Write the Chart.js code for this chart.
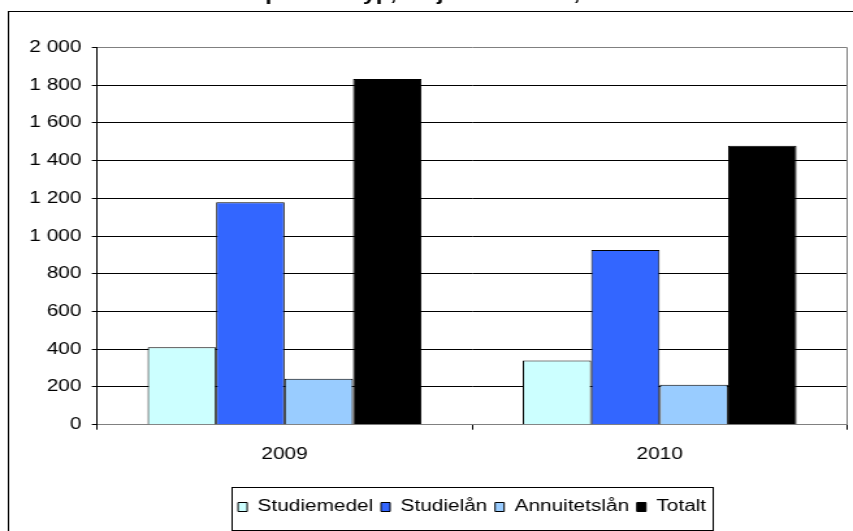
<!DOCTYPE html>
<html>
<head>
<meta charset="utf-8">
<script src="https://cdn.jsdelivr.net/npm/chart.js@4/dist/chart.umd.min.js"></script>
<style>
  html, body { margin: 0 ; padding: 0 ; background: #fff ; overflow: hidden ; }
  /* the source picture is stretched sideways, so the canvas is drawn narrow and widened by css */
  #chart { display: block ; width: 853px !important ; height: 531px !important ; }
</style>
</head>
<body>
<canvas id="chart" width="656" height="531" style="width:853px;height:531px"></canvas>
<script>

// ---------------- Data ---------------------------------------------------
const TITLE        = 'Återkrav per lånetyp, miljoner kronor, 2009–2010' ;
const categories   = [ '2009', '2010' ] ;
const studiemedel  = [ 410,  341  ] ;
const studielan    = [ 1180, 926  ] ;
const annuitetslan = [ 243,  212  ] ;
const totalt       = [ 1833, 1479 ] ;
const yTicks       = { min: 0, max: 2000, step: 200 } ;

// ---------------- Styles -------------------------------------------------
const FONT         = 'Arial, "Liberation Sans", sans-serif' ;
const FONT_SIZE    = 16 ;
const GRID_COLOR   = '#000000' ;
const BORDER_GRAY  = '#808080' ;
const PLOT_LEFT    = 74.6 ;
const PLOT_TOP     = 47.5 ;

function formatThousands( v ) {
    return String( v ).replace( /\B(?=(\d{3})+(?!\d))/g, ' ' ) ;
}

// Outer frame, clipped title, right plot border and legend box
const framePlugin = {
    id : 'frame',
    afterLayout : function( chart ) {
        // centre the legend under the plot area instead of the whole canvas
        chart.legend.left  = chart.chartArea.left ;
        chart.legend.right = chart.chartArea.right ;
    },
    beforeDraw : function( chart ) {
        const ctx = chart.ctx ;
        ctx.save() ;
        ctx.fillStyle = '#ffffff' ;
        ctx.fillRect( 0, 0, chart.width, chart.height ) ;
        ctx.strokeStyle = '#000000' ;
        ctx.lineWidth = 1 ;
        ctx.strokeRect( 6.5, 11.5, 800, 700 ) ;
        ctx.restore() ;
    },
    afterDraw : function( chart ) {
        const ctx  = chart.ctx ;
        const area = chart.chartArea ;
        ctx.save() ;

        ctx.strokeStyle = BORDER_GRAY ;
        ctx.lineWidth = 1 ;
        ctx.beginPath() ;
        ctx.moveTo( Math.round( area.right ) - 0.5, area.top ) ;
        ctx.lineTo( Math.round( area.right ) - 0.5, area.bottom ) ;
        ctx.stroke() ;

        ctx.fillStyle = '#000000' ;
        ctx.font = 'bold 18px ' + FONT ;
        ctx.textAlign = 'left' ;
        ctx.textBaseline = 'alphabetic' ;
        ctx.fillText( TITLE, 126, 0 ) ;

        const boxes = chart.legend.legendHitBoxes ;
        if( boxes && boxes.length ) {
            var left  = 99999 ;
            var right = 0 ;
            for( var i=0; i<boxes.length; i++ ) {
                left  = Math.min( left,  boxes[i].left ) ;
                right = Math.max( right, boxes[i].left + boxes[i].width ) ;
            }
            const top = boxes[0].top ;
            ctx.strokeStyle = '#000000' ;
            ctx.strokeRect( Math.round( left - 5 ) + 0.5, Math.round( top - 12 ) + 0.5,
                            Math.round( right - left + 10 ), 43 ) ;
        }
        ctx.restore() ;
    }
} ;

const mkSet = function( label, values, color ) {
    return {
        label           : label,
        data            : values,
        backgroundColor : color,
        borderColor     : '#000000',
        borderWidth     : 1,
        borderSkipped   : 'start',
        categoryPercentage : 0.73,
        barPercentage   : 1.0,
    } ;
} ;

const data = {
    labels : categories,
    datasets : [
        mkSet( 'Studiemedel',  studiemedel,  '#CCFFFF' ),
        mkSet( 'Studielån',    studielan,    '#3366FF' ),
        mkSet( 'Annuitetslån', annuitetslan, '#99CCFF' ),
        mkSet( 'Totalt',       totalt,       '#000000' ),
    ]
} ;

const options = {
    responsive : false,
    animation  : false,
    devicePixelRatio : 1,
    layout : {
        padding : { left: 0, right: 4.5, top: PLOT_TOP, bottom: 6 }
    },
    plugins : {
        title   : { display: false },
        tooltip : { enabled: false },
        legend  : {
            display  : true,
            position : 'bottom',
            labels   : {
                boxWidth  : 7,
                boxHeight : 9,
                padding   : 6,
                color     : '#000000',
                font      : { family: FONT, size: FONT_SIZE },
            }
        }
    },
    scales : {
        x : {
            offset : true,
            afterFit : function( scale ) { scale.height = 68.3 ; },
            grid : {
                offset          : true,
                drawOnChartArea : false,
                drawTicks       : true,
                tickLength      : 5,
                color           : GRID_COLOR,
            },
            border : { display: true, color: BORDER_GRAY, width: 1 },
            ticks  : {
                padding : 15,
                color   : '#000000',
                font    : { family: FONT, size: FONT_SIZE },
            }
        },
        y : {
            min : yTicks.min,
            max : yTicks.max,
            afterFit : function( scale ) { scale.width = PLOT_LEFT ; },
            grid : {
                color : function( c ) {
                    return ( c.tick && c.tick.value == yTicks.max ) ? BORDER_GRAY : GRID_COLOR ;
                },
                tickColor  : GRID_COLOR,
                tickLength : 4,
            },
            border : { display: true, color: '#000000', width: 1 },
            ticks  : {
                stepSize : yTicks.step,
                padding  : 8,
                color    : '#000000',
                font     : { family: FONT, size: FONT_SIZE },
                callback : function( v ) { return formatThousands( v ) ; }
            }
        }
    }
} ;

new Chart( document.getElementById( 'chart' ), {
    type    : 'bar',
    data    : data,
    options : options,
    plugins : [ framePlugin ]
} ) ;
</script>
</body>
</html>
